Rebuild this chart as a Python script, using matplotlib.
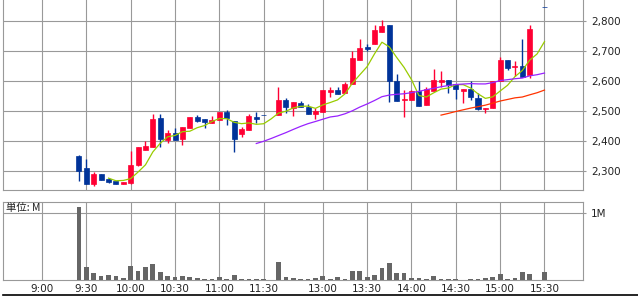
import numpy as np
import pandas as pd
import matplotlib
matplotlib.use("Agg")
import matplotlib.pyplot as plt
from matplotlib.lines import Line2D

# 5-minute slots counted from 9:00 (31 = lunch gap, 67 = no trades before close)
slots = list(range(5, 31)) + list(range(32, 67)) + [68]
opens = [2351, 2311, 2260, 2291, 2274, 2268, 2259, 2262, 2321, 2371,
         2382, 2478, 2404, 2428, 2407, 2444, 2481, 2474, 2462, 2471,
         2498, 2468, 2424, 2438, 2481, 2488,
         2488, 2538, 2511, 2528, 2514, 2491, 2498, 2564, 2571, 2561,
         2591, 2671, 2713, 2724, 2764, 2788, 2600, 2539, 2538, 2569,
         2523, 2569, 2598, 2604, 2591, 2569, 2575, 2544, 2507, 2512,
         2601, 2671, 2647, 2651, 2621,
         2849]
highs = [2354, 2341, 2299, 2291, 2280, 2268, 2265, 2368, 2381, 2401,
         2491, 2491, 2438, 2444, 2448, 2481, 2488, 2474, 2484, 2498,
         2504, 2468, 2448, 2491, 2498, 2488,
         2581, 2544, 2531, 2534, 2524, 2511, 2571, 2581, 2581, 2598,
         2701, 2741, 2724, 2788, 2804, 2788, 2624, 2571, 2571, 2601,
         2582, 2640, 2633, 2604, 2591, 2574, 2601, 2560, 2512, 2601,
         2681, 2671, 2668, 2741, 2788,
         2849]
lows = [2269, 2258, 2251, 2271, 2262, 2259, 2259, 2259, 2318, 2371,
        2382, 2382, 2395, 2404, 2389, 2444, 2465, 2444, 2462, 2471,
        2455, 2364, 2414, 2438, 2461, 2488,
        2488, 2494, 2484, 2514, 2491, 2474, 2498, 2548, 2558, 2561,
        2591, 2671, 2702, 2724, 2764, 2532, 2535, 2481, 2538, 2519,
        2523, 2569, 2582, 2560, 2541, 2529, 2539, 2506, 2495, 2512,
        2601, 2638, 2618, 2614, 2611,
        2849]
closes = [2302, 2260, 2291, 2271, 2265, 2259, 2265, 2321, 2381, 2385,
          2474, 2409, 2428, 2404, 2448, 2481, 2468, 2464, 2471, 2498,
          2478, 2408, 2441, 2484, 2474, 2488,
          2538, 2514, 2531, 2514, 2491, 2501, 2571, 2571, 2558, 2591,
          2678, 2711, 2708, 2771, 2784, 2600, 2535, 2542, 2569, 2519,
          2575, 2604, 2604, 2588, 2575, 2574, 2549, 2507, 2512, 2601,
          2671, 2644, 2651, 2614, 2774,
          2849]
# volume, millions of shares
volumes = [1.09, 0.20, 0.10, 0.065, 0.075, 0.06, 0.03, 0.21, 0.135, 0.195,
           0.24, 0.12, 0.06, 0.045, 0.06, 0.045, 0.03, 0.015, 0.015, 0.045,
           0.015, 0.075, 0.015, 0.015, 0.015, 0.008,
           0.27, 0.045, 0.03, 0.015, 0.015, 0.03, 0.06, 0.015, 0.045, 0.015,
           0.135, 0.135, 0.045, 0.075, 0.18, 0.255, 0.105, 0.105, 0.03, 0.03,
           0.015, 0.06, 0.015, 0.015, 0.015, 0.005, 0.015, 0.015, 0.03, 0.045,
           0.09, 0.015, 0.03, 0.12, 0.09,
           0.12]

tick_slots = [0, 6, 12, 18, 24, 30, 38, 44, 50, 56, 62, 68]
tick_labels = ["9:00", "9:30", "10:00", "10:30", "11:00", "11:30",
               "13:00", "13:30", "14:00", "14:30", "15:00", "15:30"]
price_ticks = [2300, 2400, 2500, 2600, 2700, 2800]

RED = "#ff0033"
BLUE = "#003399"
GRID = "#999999"
TXT = "#222222"

x = np.array(slots)
o = np.array(opens)
h = np.array(highs)
l = np.array(lows)
c = np.array(closes)
col = np.where(c > o, RED, BLUE)

# moving averages over time slots (gaps carry the last close)
full = pd.Series(closes, index=slots).reindex(range(slots[0], slots[-1] + 1)).ffill()
ma5 = full.rolling(5).mean()
ma25 = full.rolling(25).mean()
ma50 = full.rolling(50).mean()

W, H = 638, 296
fig = plt.figure(figsize=(W / 100, H / 100), dpi=100)
x0, x1 = 3, 582.7
ax = fig.add_axes([x0 / W, 1 - 190 / H, (x1 - x0) / W, 190 / H])
axv = fig.add_axes([x0 / W, 1 - 280 / H, (x1 - x0) / W, (280 - 201.7) / H])

xlim = (-5.28, 73.17)

# price panel
ax.vlines(x, l, h, colors=col, lw=1.0, zorder=3)
ax.bar(x, np.abs(c - o), bottom=np.minimum(o, c), width=0.68, color=col,
       edgecolor=col, linewidth=0.5, zorder=4)
ax.plot(ma5.index, ma5.values, color="#99cc00", lw=0.9, zorder=5)
ax.plot(ma25.index, ma25.values, color="#9922ff", lw=0.9, zorder=5)
ax.plot(ma50.index, ma50.values, color="#ff3300", lw=0.9, zorder=5)

ax.set_xlim(*xlim)
ax.set_ylim(2238.4, 2870.9)
ax.set_xticks(tick_slots)
ax.set_yticks(price_ticks)
ax.set_yticklabels([f"{v:,}" for v in price_ticks])
ax.yaxis.tick_right()
ax.tick_params(axis="x", length=0, labelbottom=False)
ax.tick_params(axis="y", length=2, width=0.8, color=GRID, pad=4,
               labelsize=7.5, labelcolor=TXT)
ax.grid(True, color=GRID, lw=0.8, zorder=0)
ax.set_axisbelow(True)
for name, sp in ax.spines.items():
    sp.set_color(GRID)
    sp.set_linewidth(0.8)
ax.spines["top"].set_visible(False)

# volume panel
axv.bar(x, volumes, width=0.64, color="#666666", zorder=3)
axv.set_xlim(*xlim)
axv.set_ylim(0, 1.163)
axv.set_xticks(tick_slots)
axv.set_xticklabels(tick_labels)
axv.set_yticks([1.0])
axv.set_yticklabels(["1M"])
axv.yaxis.tick_right()
axv.tick_params(axis="x", length=0, pad=3, labelsize=7.5, labelcolor=TXT)
axv.tick_params(axis="y", length=2, width=0.8, color=GRID, pad=4,
                labelsize=7.5, labelcolor=TXT)
axv.grid(True, color=GRID, lw=0.8, zorder=0)
axv.set_axisbelow(True)
for sp in axv.spines.values():
    sp.set_color(GRID)
    sp.set_linewidth(0.8)

fig.text(6 / W, 1 - 203 / H, "単位: M", ha="left", va="top", fontsize=7.5,
         color=TXT, family=["Noto Sans CJK JP", "DejaVu Sans"])

fig.add_artist(Line2D([x0 / W, 1], [1 - 294.8 / H] * 2, color="black", lw=1.2,
                      transform=fig.transFigure))

fig.savefig("out.png", dpi=100)
